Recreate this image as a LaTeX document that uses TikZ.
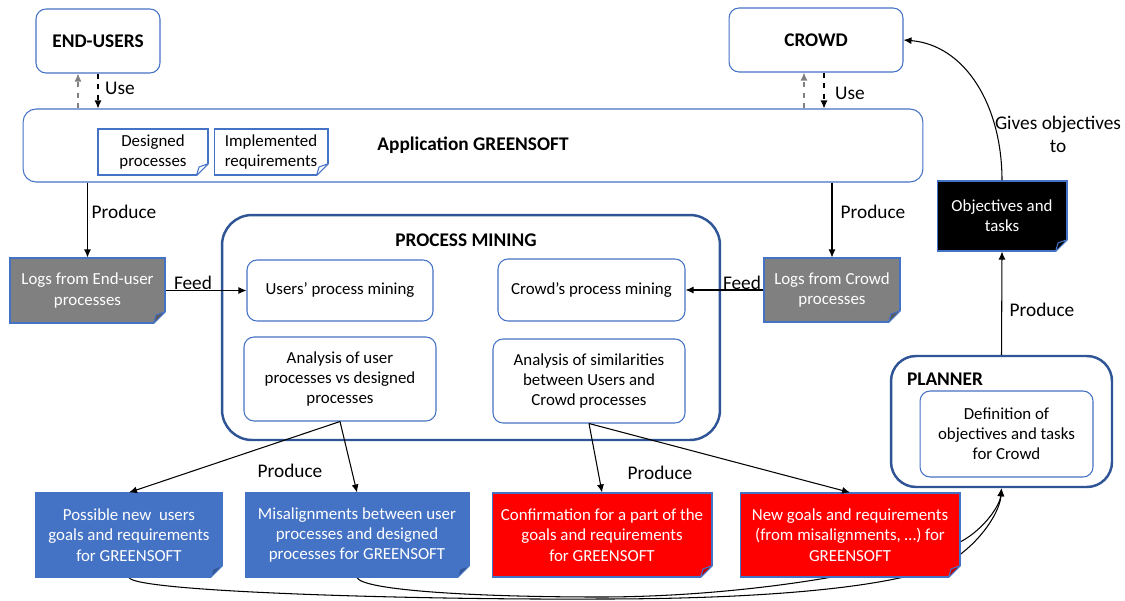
\documentclass[tikz,border=0pt]{standalone}
\usepackage{fontspec}
\setmainfont{Carlito}
\usepackage{xcolor}
\usepackage{tikz}
\usetikzlibrary{arrows.meta}
\usetikzlibrary{calc,positioning,backgrounds}
\definecolor{lineblue}{RGB}{68,114,196}
\definecolor{frameblue}{RGB}{47,85,151}
\definecolor{docblue}{RGB}{68,114,196}
\definecolor{docred}{RGB}{255,0,0}
\definecolor{docgray}{RGB}{128,128,128}
\tikzset{%
  >={Latex[width=1.4mm,length=1.6mm]},
  % Specifications for style of nodes:
  base/.style = {rectangle, rounded corners=0.2cm, draw=lineblue,
    line width=0.6pt, fill=white, inner sep=0pt,
    text centered},
  actor/.style = {base, font=\fontsize{11}{13}\selectfont\bfseries},
  frame/.style = {base, draw=frameblue, line width=1.4pt},
  heading/.style = {font=\fontsize{11}{13}\selectfont\bfseries, inner sep=1pt},
  tag/.style = {font=\fontsize{11}{13}\selectfont, inner sep=1pt},
  doc/.style = {rectangle, draw=lineblue, line width=0.6pt,
    fill=#1, inner sep=0pt, text centered},
  plainDoc/.style = {doc=white},
  logDoc/.style = {doc=docgray, text=white},
  objDoc/.style = {doc=black, text=white},
  userDoc/.style = {doc=docblue, text=white},
  crowdDoc/.style = {doc=docred, text=white},
  link/.style = {->, line width=0.6pt},
  useUp/.style = {link, dashed, gray},
  useDown/.style = {link, dashed},
}
% folded corner of a document node
\newcommand{\foldcorner}[2]{%
  \fill[white] ([xshift=-0.28cm,yshift=-0.04cm]#1.south east)
    -- ([xshift=0.04cm,yshift=-0.04cm]#1.south east)
    -- ([xshift=0.04cm,yshift=0.28cm]#1.south east) -- cycle;
  \filldraw[fill=#2, draw=lineblue, line width=0.6pt, line join=round]
    ([xshift=-0.24cm]#1.south east)
    -- ([yshift=0.24cm]#1.south east)
    -- ([xshift=-0.19cm,yshift=0.17cm]#1.south east) -- cycle;}

\begin{document}
\fontsize{9.6}{11.5}\selectfont
\begin{tikzpicture}[x=0.02cm, y=-0.02cm, node distance=0.44cm, align=center]
        \useasboundingbox (0,0) rectangle (1125,601);
        % Specification of nodes (position, etc.)
        \node(Users)[actor, minimum width=2.48cm, minimum height=1.28cm] at (98,41) {END-USERS};
        \node(Crowd)[actor, minimum width=3.48cm, minimum height=1.28cm] at (816,40) {CROWD};
        \node(App)[actor, rounded corners=0.26cm, minimum width=18cm, minimum height=1.46cm] at (473,145.5) {Application GREENSOFT};
        \node(Designed)[plainDoc, minimum width=2.2cm, minimum height=0.92cm] at (153,152) {Designed\\processes};
        \node(Implemented)[plainDoc, right=0.1cm of Designed, minimum width=2.28cm, minimum height=0.92cm] {Implemented\\requirements};
        \node(LogsUsers)[logDoc, minimum width=3.1cm, minimum height=1.3cm] at (87.5,290.5) {Logs from End-user\\processes};
        \node(LogsCrowd)[logDoc, minimum width=2.72cm, minimum height=1.28cm] at (832,290) {Logs from Crowd\\processes};
        % process mining
        \node(PM)[frame, rounded corners=0.6cm, minimum width=9.96cm, minimum height=4.5cm] at (471,327.5) {};
        \node(PMtitle)[heading] at (466,240) {PROCESS MINING};
        \node(UsersPM)[base, minimum width=3.72cm, minimum height=1.22cm] at (340,290.5) {Users’ process mining};
        \node(CrowdPM)[base, minimum width=3.74cm, minimum height=1.24cm] at (591.5,290) {Crowd’s process mining};
        \node(AnaUsers)[base, minimum width=3.84cm, minimum height=1.68cm] at (340,379) {Analysis of user\\processes vs designed\\processes};
        \node(AnaSim)[base, minimum width=3.84cm, minimum height=1.68cm] at (589,381) {Analysis of similarities\\between Users and\\Crowd processes};
        % planner
        \node(Obj)[objDoc, minimum width=2.6cm, minimum height=1.4cm] at (1002,216) {Objectives and\\tasks};
        \node(Planner)[frame, rounded corners=0.5cm, minimum width=4.42cm, minimum height=2.62cm] at (1001.5,421.5) {};
        \node(PlannerTitle)[heading] at (945,379) {PLANNER};
        \node(Def)[base, minimum width=3.46cm, minimum height=1.72cm] at (1006.5,434) {Definition of\\objectives and tasks\\for Crowd};
        % outputs
        \node(Possible)[userDoc, minimum width=3.72cm, minimum height=1.68cm] at (129,535) {Possible new\ \ users\\goals and requirements\\for GREENSOFT};
        \node(Misalign)[userDoc, right=of Possible, minimum width=4.48cm, minimum height=1.68cm] {Misalignments between user\\processes and designed\\processes for GREENSOFT};
        \node(Confirm)[crowdDoc, right=of Misalign, minimum width=4.4cm, minimum height=1.68cm] {Confirmation for a part of the\\goals and requirements\\for GREENSOFT};
        \node(NewGoals)[crowdDoc, right=0.54cm of Confirm, minimum width=4.4cm, minimum height=1.68cm] {New goals and requirements\\(from misalignments, …) for\\GREENSOFT};
        % folded corners
        \foldcorner{Designed}{white}
        \foldcorner{Implemented}{white}
        \foldcorner{LogsUsers}{docgray!70!black}
        \foldcorner{LogsCrowd}{docgray!70!black}
        \foldcorner{Obj}{black}
        \foldcorner{Possible}{docblue!75!black}
        \foldcorner{Misalign}{docblue!75!black}
        \foldcorner{Confirm}{docred!75!black}
        \foldcorner{NewGoals}{docred!75!black}
        % labels
        \node(UseU)[tag] at (120,88) {Use};
        \node(UseC)[tag] at (850,93) {Use};
        \node(ProdU)[tag] at (124,212) {Produce};
        \node(ProdC)[tag] at (873,212) {Produce};
        \node(FeedU)[tag] at (193,283) {Feed};
        \node(FeedC)[tag] at (742,283) {Feed};
        \node(ProdA)[tag] at (290,471) {Produce};
        \node(ProdS)[tag] at (660,473) {Produce};
        \node(ProdP)[tag] at (1042,310) {Produce};
        \node(Gives)[tag] at (1058,134) {Gives objectives\\to};
        % connectors
        \draw[useUp]([xshift=-0.4cm]Users.south |- App.north) -- ([xshift=-0.4cm]Users.south);
        \draw[useDown](Users.south) -- (Users.south |- App.north);
        \draw[useUp]([xshift=-0.24cm]Crowd.south |- App.north) -- ([xshift=-0.24cm]Crowd.south);
        \draw[useDown]([xshift=0.16cm]Crowd.south) -- ([xshift=0.16cm]Crowd.south |- App.north);
        \draw[link](LogsUsers.north |- App.south) -- (LogsUsers.north);
        \draw[link](LogsCrowd.north |- App.south) -- (LogsCrowd.north);
        \draw[link](LogsUsers.east) -- (UsersPM.west);
        \draw[link](LogsCrowd.west) -- (CrowdPM.east);
        \draw[link](AnaUsers.south) -- (Possible.north);
        \draw[link](AnaUsers.south) -- (Misalign.north);
        \draw[link](AnaSim.south) -- (Confirm.north);
        \draw[link](AnaSim.south) -- (NewGoals.north);
        \draw[link](Planner.north) -- (Obj.south);
        \draw[link](Obj.north) .. controls (1002,105) and (965,45) .. (Crowd.east);
        \begin{scope}[on background layer]
        \draw[link](Possible.south) .. controls (135,592) and (420,600) .. (600,599)
          .. controls (780,599) and (930,585) .. (962,553)
          .. controls (985,535) and (1000,510) .. (Planner.south);
        \draw[link](Misalign.south) .. controls (362,590) and (470,597) .. (600,597)
          .. controls (740,597) and (900,572) .. (962,541)
          .. controls (985,528) and (1000,505) .. (Planner.south);
        \end{scope}
\end{tikzpicture}
\end{document}
